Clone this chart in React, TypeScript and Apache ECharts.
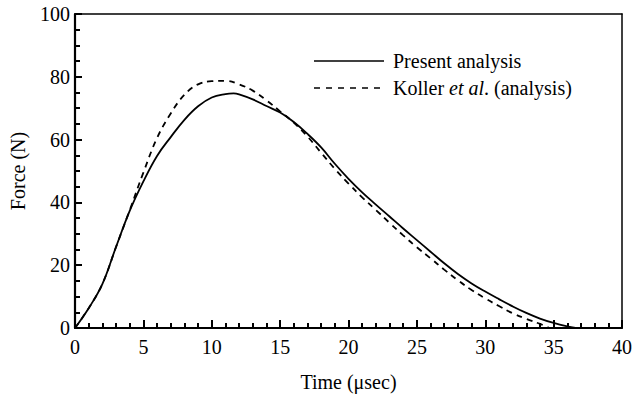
import React, { useEffect, useRef } from "react";
import * as echarts from "echarts";

const presentX = [0, 1, 2, 3, 4, 5, 6, 7, 8, 9, 10, 11, 11.6, 12, 13, 14, 15, 16, 17, 18, 19, 20, 21, 22, 23, 24, 25, 26, 27, 28, 29, 30, 31, 32, 33, 34, 35, 36, 36.6];
const presentY = [0, 6.3, 14, 25.8, 37.3, 46.7, 54.8, 60.8, 66.3, 70.6, 73.4, 74.5, 74.7, 74.4, 72.8, 70.7, 68.6, 65.6, 61.8, 57.5, 52.3, 47.5, 43.2, 39.3, 35.5, 31.7, 28, 24.3, 20.6, 17.2, 14.2, 11.6, 9.2, 6.9, 4.8, 3, 1.6, 0.5, 0];

const kollerX = [0, 1, 2, 3, 4, 5, 6, 7, 8, 9, 10, 11, 12, 13, 14, 15, 16, 17, 18, 19, 20, 21, 22, 23, 24, 25, 26, 27, 28, 29, 30, 31, 32, 33, 34, 34.7];
const kollerY = [0, 6.3, 14, 25.8, 37.5, 49.5, 60.5, 68.3, 74.3, 77.6, 78.6, 78.7, 77.6, 75.6, 72.5, 69, 65.4, 61, 55.8, 50.7, 46, 41.6, 37.6, 33.5, 29.5, 25.7, 22.2, 18.6, 15.2, 12.1, 9.4, 7, 4.7, 2.9, 1.3, 0];

const xTicks = { min: 0, max: 40, interval: 5, minorSplit: 5 };
const yTicks = { min: 0, max: 100, interval: 20, minorSplit: 4 };

const legendNames = ["Present analysis", "Koller et al. (analysis)"];

const FONT = "Liberation Serif";
const FS = 20;

export default function App() {
  const ref = useRef<HTMLDivElement>(null);
  useEffect(() => {
    if (!ref.current) return;
    const chart = echarts.init(ref.current, undefined, { renderer: "svg" });
    const pair = (xs: number[], ys: number[]) => xs.map((x, i) => [x, ys[i]]);
    const frameAxis = {
      type: "value",
      axisLine: { show: true, onZero: false, lineStyle: { color: "#000", width: 1.5 } },
      axisTick: { show: false },
      axisLabel: { show: false },
      splitLine: { show: false },
    };
    chart.setOption({
      animation: false,
      backgroundColor: "#fff",
      textStyle: { fontFamily: FONT, color: "#000" },
      grid: { left: 74, right: 14, top: 14, bottom: 71 },
      xAxis: [
        {
          type: "value",
          position: "bottom",
          min: xTicks.min,
          max: xTicks.max,
          interval: xTicks.interval,
          name: "Time (\u03bcsec)",
          nameLocation: "middle",
          nameGap: 44,
          nameTextStyle: { fontFamily: FONT, fontSize: FS, color: "#000" },
          axisLine: { show: true, onZero: false, lineStyle: { color: "#000", width: 2.2 } },
          axisTick: { show: true, inside: true, length: 8, lineStyle: { color: "#000", width: 2 } },
          minorTick: { show: true, splitNumber: xTicks.minorSplit, length: 5, lineStyle: { color: "#000", width: 2 } },
          axisLabel: { show: true, fontFamily: FONT, fontSize: FS, color: "#000", margin: 9 },
          splitLine: { show: false },
        },
        { ...frameAxis, position: "top", min: xTicks.min, max: xTicks.max },
      ],
      yAxis: [
        {
          type: "value",
          position: "left",
          min: yTicks.min,
          max: yTicks.max,
          interval: yTicks.interval,
          name: "Force (N)",
          nameLocation: "middle",
          nameGap: 47,
          nameTextStyle: { fontFamily: FONT, fontSize: FS, color: "#000" },
          axisLine: { show: true, onZero: false, lineStyle: { color: "#000", width: 2.2 } },
          axisTick: { show: true, inside: true, length: 7, lineStyle: { color: "#000", width: 2 } },
          minorTick: { show: true, splitNumber: yTicks.minorSplit, length: 5, lineStyle: { color: "#000", width: 2 } },
          axisLabel: { show: true, fontFamily: FONT, fontSize: FS, color: "#000", margin: 5 },
          splitLine: { show: false },
        },
        { ...frameAxis, position: "right", min: yTicks.min, max: yTicks.max },
      ],
      graphic: [
        {
          type: "line",
          shape: { x1: 314, y1: 61, x2: 384, y2: 61 },
          style: { stroke: "#000", lineWidth: 1.7 },
        },
        {
          type: "line",
          shape: { x1: 314, y1: 88, x2: 384, y2: 88 },
          style: { stroke: "#000", lineWidth: 1.7, lineDash: [6, 6] },
        },
        {
          type: "text",
          x: 393,
          y: 61,
          style: {
            text: legendNames[0],
            fontFamily: FONT,
            fontSize: FS,
            fill: "#000",
            verticalAlign: "middle",
          },
        },
        {
          type: "text",
          x: 393,
          y: 88,
          style: {
            text: "{n|Koller }{i|et al}{n|. (analysis)}",
            fontFamily: FONT,
            fontSize: FS,
            fill: "#000",
            verticalAlign: "middle",
            rich: {
              n: { fontFamily: FONT, fontSize: FS, fill: "#000", color: "#000" },
              i: { fontFamily: FONT, fontSize: FS, fill: "#000", color: "#000", fontStyle: "italic" },
            },
          },
        },
      ],
      series: [
        {
          name: legendNames[0],
          type: "line",
          data: pair(presentX, presentY),
          smooth: 0.4,
          symbol: "none",
          lineStyle: { color: "#000", width: 1.8, type: "solid" },
          itemStyle: { color: "#000" },
        },
        {
          name: legendNames[1],
          type: "line",
          data: pair(kollerX, kollerY),
          smooth: 0.4,
          symbol: "none",
          lineStyle: { color: "#000", width: 1.8, type: [6, 5] },
          itemStyle: { color: "#000" },
        },
      ],
    });
    return () => chart.dispose();
  }, []);
  return (
    <div
      ref={ref}
      style={{ position: "fixed", left: 0, top: 0, width: 636, height: 399, background: "#fff" }}
    />
  );
}
